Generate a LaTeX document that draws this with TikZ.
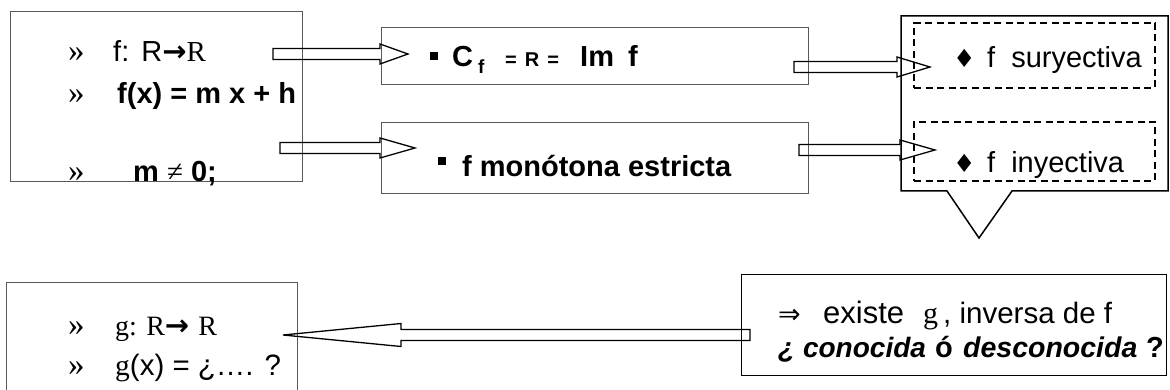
\documentclass[tikz,border=0pt]{standalone}
\usepackage{fontspec}
\setmainfont{Liberation Sans}
\newfontfamily\serif{Liberation Serif}
\newfontfamily\symb{DejaVu Sans}
\usetikzlibrary{calc}

% hollow block arrow between two coordinates: from, to, head length, head half width
\newcommand{\fatarrow}[4]{%
  \draw[fatarr] let \p1=(#1), \p2=(#2), \n1={ifthenelse(\x2>\x1,1,-1)} in
    (\x1,\y1+5.5pt) -- ({\x2-(\n1)*#3pt},\y1+5.5pt) -- ({\x2-(\n1)*#3pt},\y1+#4pt)
    -- (\x2,\y1) -- ({\x2-(\n1)*#3pt},\y1-#4pt) -- ({\x2-(\n1)*#3pt},\y1-5.5pt)
    -- (\x1,\y1-5.5pt) -- cycle;}
\newcommand{\toarr}{{\symb\bfseries\fontsize{29}{32}\selectfont →}}

\begin{document}
\begin{tikzpicture}[x=1pt, y=-1pt,
    box/.style={draw=#1, line width=1pt, inner sep=0pt},
    box/.default=black!65,
    dashbox/.style={draw, line width=1.3pt, dash pattern=on 7pt off 4.5pt, inner sep=0pt},
    txt/.style={inner sep=0pt, anchor=base west, font=\fontsize{29}{33}\selectfont},
    txtb/.style={txt, font=\fontsize{29}{33}\selectfont\bfseries},
    txts/.style={txt, font=\fontsize{28}{33}\selectfont\serif},
    quote/.style={txt, font=\fontsize{33}{36}\selectfont\serif},
    bul/.style={txt, font=\fontsize{25}{28}\selectfont\symb},
]
    \tikzset{fatarr/.style={draw, line width=1.3pt, line join=miter}}
    \useasboundingbox (0,0) rectangle (1170,390);

    % definition of f
    \node[box, minimum width=292pt, minimum height=170pt] (fbox) at (156,97) {};
    \node[quote] (fq1) at (68,62) {»};
    \node[txt] (fdom) at (113,62) {f:\hspace{12pt}R\toarr{\serif R}};
    \node[quote] (fq2) at (68,104) {»};
    \node[txtb] (frule) at (117,104) {f(x) = m x + h};
    \node[quote] (fq3) at (68,182) {»};
    \node[txtb] (fcond) at (133,182) {m {\serif\mdseries ≠} 0;};

    % properties
    \node[box, minimum width=427pt, minimum height=57pt] (cbox) at (594.5,56.5) {};
    \node[txt] (cbul) at (430,60) {\rule{7.5pt}{7.5pt}};
    \node[txtb] (cf) at (452,67) {C\hspace{5pt}\raisebox{-7pt}{\fontsize{19}{21}\selectfont f}};
    \node[txtb, font=\fontsize{20}{24}\selectfont\bfseries] (creq) at (505,67) {=\hspace{8pt}R\hspace{8pt}=};
    \node[txtb] (cim) at (580,67) {Im\hspace{14pt}f};

    \node[box, minimum width=427pt, minimum height=71pt] (mbox) at (594.5,158.5) {};
    \node[txt] (mbul) at (438,165) {\rule{7.5pt}{7.5pt}};
    \node[txtb] (mtxt) at (462,177) {f monótona estricta};

    % callout
    \draw[line width=1.5pt, line join=miter] (901,16) -- (1168,16) -- (1168,191) -- (1012,191)
        -- (979,238) -- (947,191) -- (901,191) -- cycle;
    \node[dashbox, minimum width=241pt, minimum height=65pt] (sbox) at (1034.5,55.5) {};
    \node[bul] (sbul) at (953,68) {♦};
    \node[txt] (stxt) at (987,68) {f\hspace{16pt}suryectiva};
    \node[dashbox, minimum width=241pt, minimum height=59pt] (ibox) at (1034.5,151.5) {};
    \node[bul] (ibul) at (953,173) {♦};
    \node[txt] (itxt) at (987,173) {f\hspace{16pt}inyectiva};

    % inverse
    \node[box=black, minimum width=425pt, minimum height=101pt] (ebox) at (953.5,324.5) {};
    \node[txt, font=\fontsize{27}{32}\selectfont\symb] (eimp) at (778,323) {⇒};
    \node[txt, font=\fontsize{31}{34}\selectfont] (eex) at (823,323) {existe};
    \node[txts, font=\fontsize{30}{34}\selectfont\serif] (eg) at (923,323) {g};
    \node[txt, font=\fontsize{29.5}{34}\selectfont] (einv) at (943,323) {, inversa de f};
    \node[txtb, font=\fontsize{28}{32}\selectfont\bfseries\itshape] (eq1) at (778,357) {¿ conocida};
    \node[txtb] (eo) at (935,357) {ó};
    \node[txtb, font=\fontsize{28.5}{32}\selectfont\bfseries\itshape] (eq2) at (963,357) {desconocida};
    \node[txtb] (eq3) at (1146,357) {?};

    % g, the inverse
    \draw[box] (6,392) -- (6,282) -- (297,282) -- (297,392);
    \node[quote] (gq1) at (68,335) {»};
    \node[txts] (gdom) at (115,335) {g: R\toarr\hspace{9pt}R};
    \node[quote] (gq2) at (68,375) {»};
    \node[txt, font=\fontsize{29.5}{34}\selectfont] (grule) at (115,375) {{\serif g}(x) = ¿…. ?};

    % block arrows
    \coordinate (a1s) at (273,54);  \coordinate (a1e) at (408,54);
    \coordinate (a2s) at (280,148); \coordinate (a2e) at (415,148);
    \coordinate (a3s) at (794,67);  \coordinate (a3e) at (930,67);
    \coordinate (a4s) at (799,150); \coordinate (a4e) at (935,150);
    \coordinate (a5s) at (750,335); \coordinate (a5e) at (283,335);
    \fatarrow{a1s}{a1e}{28}{10}
    \fatarrow{a2s}{a2e}{35}{10}
    \fatarrow{a3s}{a3e}{33}{10}
    \fatarrow{a4s}{a4e}{35}{10}
    \fatarrow{a5s}{a5e}{118}{11.5}
\end{tikzpicture}
\end{document}
